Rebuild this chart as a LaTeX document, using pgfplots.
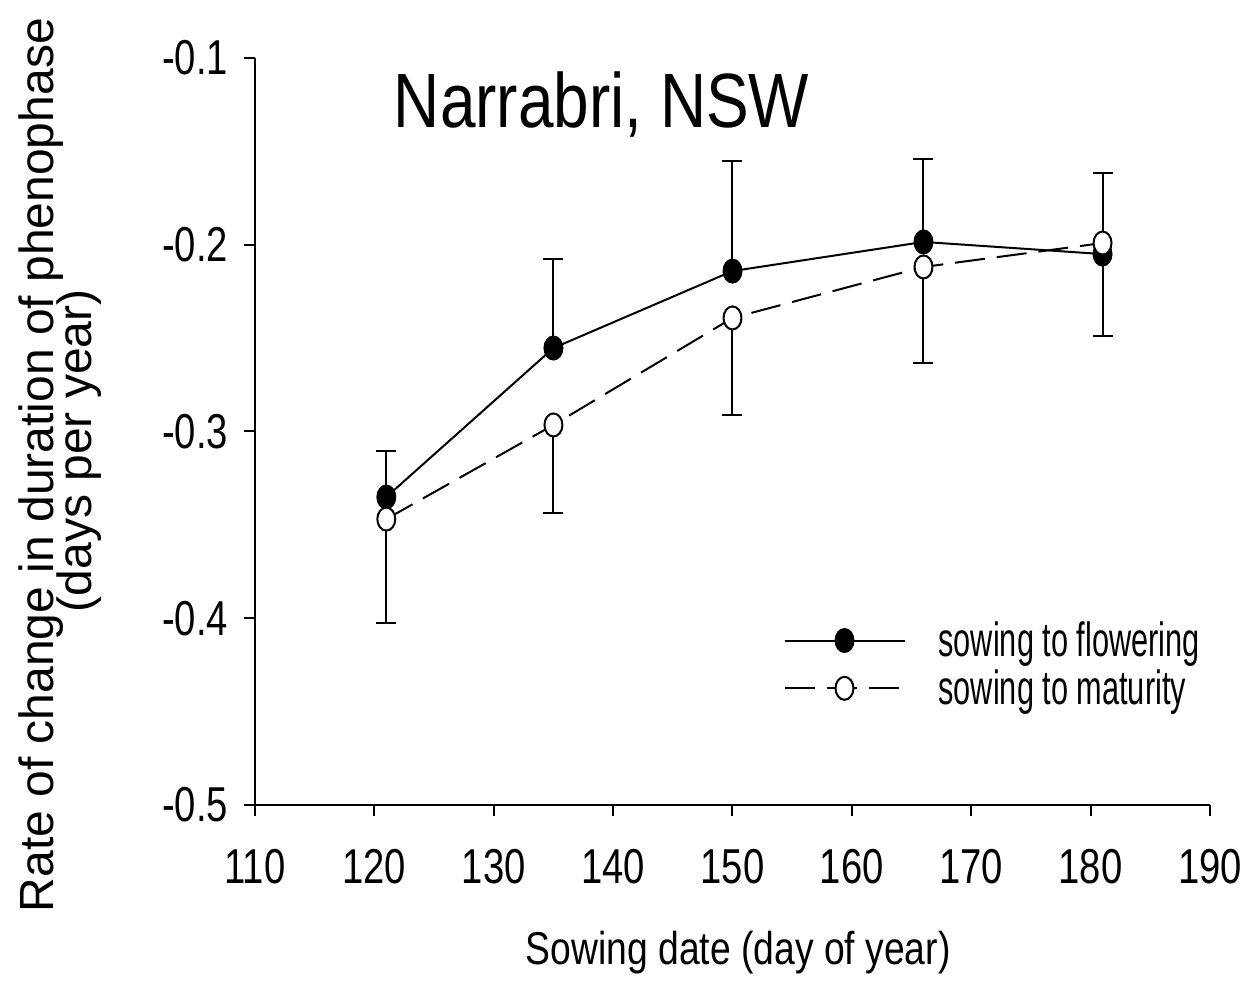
\documentclass[border=0pt]{standalone}
\usepackage{fontspec}
\setmainfont{Liberation Sans}
\newfontfamily\tickfont{Liberation Sans}[FakeStretch=0.78]
\newfontfamily\xlabfont{Liberation Sans}[FakeStretch=0.81]
\newfontfamily\titlefont{Liberation Sans}[FakeStretch=0.83]
\newfontfamily\legfont{Liberation Sans}[FakeStretch=0.64]
\usepackage{pgfplots}
\pgfplotsset{compat=1.18}

\begin{document}
\begin{tikzpicture}
\useasboundingbox (-127.5pt,-92pt) rectangle (498.5pt,402.5pt);
\begin{axis}[
  width=477.5pt, height=373.5pt, scale only axis,
  xmin=110, xmax=190, ymin=-0.5, ymax=-0.1,
  xtick={110,120,...,190}, ytick={-0.5,-0.4,-0.3,-0.2,-0.1},
  xticklabels={110,120,130,140,150,160,170,180,190},
  yticklabels={-0.5,-0.4,-0.3,-0.2,-0.1},
  axis x line*=bottom, axis y line*=left,
  axis line style={line width=1pt},
  tick align=outside, tick style={line width=1pt, black},
  major tick length=5.5pt,
  ticklabel style={font=\tickfont\fontsize{24.5}{29}\selectfont},
  xticklabel style={yshift=-13pt},
  yticklabel style={xshift=-4.5pt},
  clip=false,
  xlabel={Sowing date (day of year)},
  xlabel style={at={(rel axis cs:0.506,0)}, anchor=base, yshift=-80pt, inner sep=0pt,
    font=\xlabfont\fontsize{23}{27}\selectfont},
  ylabel={Rate of change in duration of phenophase},
  ylabel style={at={(rel axis cs:-0.2115,0.455)}, anchor=base, inner sep=0pt,
    font=\fontsize{24}{28}\selectfont},
  legend style={draw=none, fill=none, at={(rel axis cs:0.553,0.246)}, anchor=north west,
    inner sep=0pt, row sep=5pt, font=\legfont\fontsize{24}{28}\selectfont,
    nodes={inner sep=0pt}, /tikz/every odd column/.append style={column sep=16.5pt}},
  legend cell align=left,
  legend image code/.code={\draw[mark repeat=2,mark phase=2,#1] plot coordinates {(0pt,0pt) (30pt,0pt) (60pt,0pt)};},
]
% error bars: flowering upward, maturity downward (181 swapped)
\addplot[forget plot, draw=none, mark=none,
  error bars/.cd, y dir=plus, y explicit,
  error bar style={draw=black, line width=1pt, solid},
  error mark options={rotate=90, draw=black, line width=1pt, mark size=5pt}]
coordinates {
(121,-0.3351) +- (0,0.0247)
(135,-0.2553) +- (0,0.0477)
(150,-0.2141) +- (0,0.0589)
(166,-0.1985) +- (0,0.0444)
(181,-0.1991) +- (0,0.0375)
};
\addplot[forget plot, draw=none, mark=none,
  error bars/.cd, y dir=minus, y explicit,
  error bar style={draw=black, line width=1pt, solid},
  error mark options={rotate=90, draw=black, line width=1pt, mark size=5pt}]
coordinates {
(121,-0.3469) +- (0,0.0556)
(135,-0.2965) +- (0,0.0471)
(150,-0.2392) +- (0,0.0520)
(166,-0.2119) +- (0,0.0514)
(181,-0.2050) +- (0,0.0439)
};
\addplot[black, line width=1pt, mark=*, mark size=5.75pt,
  mark options={xscale=0.78, fill=black, solid}]
coordinates {(121,-0.3351) (135,-0.2553) (150,-0.2141) (166,-0.1985) (181,-0.2050)};
\addlegendentry{sowing to flowering}
\addplot[black, line width=1pt, dash pattern=on 15pt off 6pt, mark=*, mark size=5.75pt,
  mark options={xscale=0.78, fill=white, solid}]
coordinates {(121,-0.3469) (135,-0.2965) (150,-0.2392) (166,-0.2119) (181,-0.1991)};
\addlegendentry{sowing to maturity}

\node[anchor=base west, inner sep=0pt, font=\titlefont\fontsize{38.5}{46}\selectfont]
  at (rel axis cs:0.145,0.9063) {Narrabri, NSW};
\node[rotate=90, anchor=base, inner sep=0pt, font=\fontsize{24}{28}\selectfont]
  at (rel axis cs:-0.1707,0.474) {(days per year)};
\end{axis}
\end{tikzpicture}
\end{document}
